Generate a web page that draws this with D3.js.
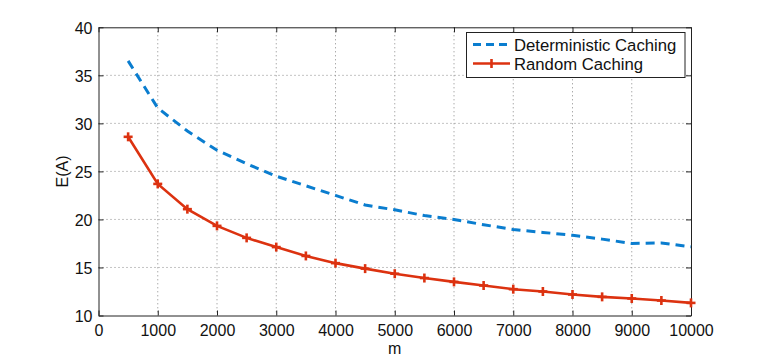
<!DOCTYPE html>
<html><head><meta charset="utf-8">
<script src="https://cdn.jsdelivr.net/npm/d3@7"></script>
<style>body{margin:0;background:#fff;} text{font-family:"Liberation Sans",Arial,sans-serif;}</style>
</head><body>
<svg id="c" width="763" height="358"></svg>
<script>
const mValues = [500,1000,1500,2000,2500,3000,3500,4000,4500,5000,5500,6000,6500,7000,7500,8000,8500,9000,9500,10000];
const deterministic = [36.5,31.6,29.2,27.2,25.8,24.5,23.5,22.5,21.5,21.0,20.4,20.0,19.45,18.95,18.65,18.35,17.95,17.5,17.55,17.15];
const randomCaching = [28.6,23.7,21.07,19.33,18.08,17.12,16.2,15.45,14.88,14.35,13.9,13.5,13.12,12.74,12.5,12.19,11.94,11.77,11.56,11.31];
const xTicks = [0,1000,2000,3000,4000,5000,6000,7000,8000,9000,10000];
const yTicks = [10,15,20,25,30,35,40];
const seriesNames = ["Deterministic Caching","Random Caching"];

const svg = d3.select("#c");
const L=98.5, R=691, T=27.3, B=315.5;
const x = d3.scaleLinear().domain([0,10000]).range([L,R]);
const y = d3.scaleLinear().domain([10,40]).range([B,T]);
const blue="#0a7dcf", red="#dc3210";

// grid
const g = svg.append("g");
g.selectAll(".gx").data(xTicks.slice(1,-1)).enter().append("line")
 .attr("x1",d=>x(d)).attr("x2",d=>x(d)).attr("y1",T).attr("y2",B)
 .attr("stroke","#888").attr("stroke-width",1).attr("stroke-dasharray","1,3");
g.selectAll(".gy").data(yTicks.slice(1,-1)).enter().append("line")
 .attr("y1",d=>y(d)).attr("y2",d=>y(d)).attr("x1",L).attr("x2",R)
 .attr("stroke","#888").attr("stroke-width",1).attr("stroke-dasharray","1,3");

// axes
const fs=16;
const xa = svg.append("g").attr("transform",`translate(0,${B})`)
 .call(d3.axisBottom(x).tickValues(xTicks).tickFormat(d3.format("d")).tickSizeInner(-5).tickSizeOuter(0).tickPadding(9));
const xt = svg.append("g").attr("transform",`translate(0,${T})`)
 .call(d3.axisTop(x).tickValues(xTicks).tickFormat("").tickSizeInner(-5).tickSizeOuter(0));
const ya = svg.append("g").attr("transform",`translate(${L},0)`)
 .call(d3.axisLeft(y).tickValues(yTicks).tickSizeInner(-5).tickSizeOuter(0).tickPadding(6));
const yr = svg.append("g").attr("transform",`translate(${R},0)`)
 .call(d3.axisRight(y).tickValues(yTicks).tickFormat("").tickSizeInner(-5).tickSizeOuter(0));
[xa,xt,ya,yr].forEach(a=>{
  a.selectAll("path").attr("stroke","#222").attr("stroke-width",1);
  a.selectAll("line").attr("stroke","#222");
  a.selectAll("text").attr("font-size",fs).attr("fill","#111").attr("font-family","Liberation Sans, Arial, sans-serif");
});
ya.selectAll("text").attr("dy","0.36em");

// labels
svg.append("text").attr("x",(L+R)/2).attr("y",354).attr("text-anchor","middle").attr("font-size",fs).attr("fill","#111").text("m");
svg.append("text").attr("transform",`translate(68,${(T+B)/2}) rotate(-90)`).attr("text-anchor","middle").attr("font-size",fs).attr("fill","#111").text("E(A)");

// lines
const line = d3.line().x((d,i)=>x(mValues[i])).y(d=>y(d));
svg.append("path").datum(deterministic).attr("d",line).attr("fill","none")
 .attr("stroke",blue).attr("stroke-width",3).attr("stroke-dasharray","9,6");
svg.append("path").datum(randomCaching).attr("d",line).attr("fill","none")
 .attr("stroke",red).attr("stroke-width",2.6);
const ms=4.5;
const mk = svg.append("g");
randomCaching.forEach((v,i)=>{
  const cx=x(mValues[i]), cy=y(v);
  mk.append("line").attr("x1",cx-ms).attr("x2",cx+ms).attr("y1",cy).attr("y2",cy).attr("stroke",red).attr("stroke-width",2.6);
  mk.append("line").attr("x1",cx).attr("x2",cx).attr("y1",cy-ms).attr("y2",cy+ms).attr("stroke",red).attr("stroke-width",2.6);
});

// legend
const lg = svg.append("g");
lg.append("rect").attr("x",466.5).attr("y",32.5).attr("width",218.5).attr("height",45).attr("fill","#fff").attr("stroke","#222").attr("stroke-width",1);
lg.append("line").attr("x1",473).attr("x2",510).attr("y1",44.5).attr("y2",44.5).attr("stroke",blue).attr("stroke-width",3).attr("stroke-dasharray","8,5");
lg.append("line").attr("x1",473).attr("x2",510).attr("y1",63.5).attr("y2",63.5).attr("stroke",red).attr("stroke-width",2.6);
lg.append("line").attr("x1",491.5).attr("x2",491.5).attr("y1",63.5-ms).attr("y2",63.5+ms).attr("stroke",red).attr("stroke-width",2.6);
lg.selectAll(".lt").data(seriesNames).enter().append("text")
 .attr("x",514).attr("y",(d,i)=>44.5+i*19).attr("dy","0.36em").attr("font-size",16.7).attr("fill","#111").text(d=>d);
</script>
</body></html>
